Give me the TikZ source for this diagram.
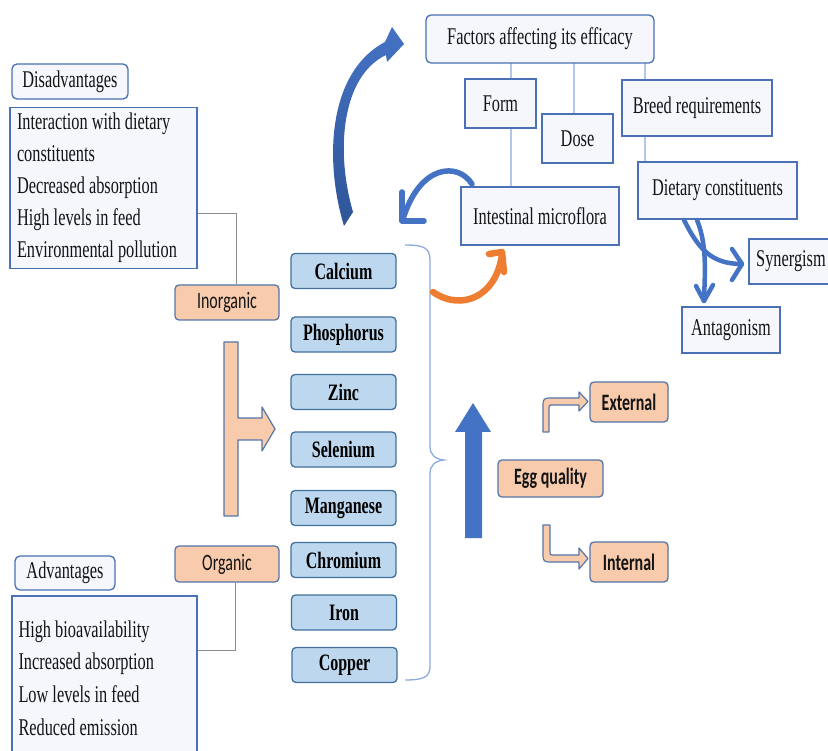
\documentclass[tikz,border=0pt]{standalone}
\usepackage{fontspec}
\setmainfont[FakeStretch=0.68]{Liberation Serif}
\newfontfamily\calfont[FakeStretch=0.68]{Carlito}
\definecolor{boxblue}{HTML}{4A70B5}
\definecolor{lightfill}{HTML}{F5F7FC}
\definecolor{minfill}{HTML}{BDD7EE}
\definecolor{minborder}{HTML}{41719C}
\definecolor{peach}{HTML}{F8CBAD}
\definecolor{peachborder}{HTML}{5576A8}
\definecolor{gconncol}{HTML}{8C8C8C}
\definecolor{tconncol}{HTML}{B4C7E7}
\definecolor{arrblue}{HTML}{4472C4}
\definecolor{arrdark}{HTML}{2F5597}
\definecolor{arrorange}{HTML}{ED7D31}
\definecolor{bracecol}{HTML}{8FAADC}
\definecolor{txt}{HTML}{141414}
\begin{document}
\begin{tikzpicture}[x=1pt,y=-1pt,
  txtbox/.style={draw=boxblue, line width=1.3pt, fill=lightfill, inner sep=0pt, text=txt,
                 font=\fontsize{24}{32}\selectfont},
  rbox/.style={txtbox, rounded corners=5pt},
  mineral/.style={draw=minborder, fill=minfill, rounded corners=4pt, line width=1.3pt,
                  minimum width=105pt, minimum height=35pt, inner sep=0pt, text=black,
                  font=\fontsize{23.5}{26}\selectfont\bfseries},
  peachbox/.style={draw=peachborder, fill=peach, rounded corners=4pt, line width=1.3pt,
                   inner sep=0pt, text=txt, font=\calfont\fontsize{23.5}{26}\selectfont},
  peachbold/.style={peachbox, font=\calfont\fontsize{23.5}{26}\selectfont\bfseries},
  gconn/.style={draw=gconncol, line width=1pt},
  tconn/.style={draw=tconncol, line width=1.2pt},
  bluearr/.style={draw=arrblue, line width=5.5pt, line cap=round, line join=round},
  dietarr/.style={draw=arrblue, line width=4.5pt, line cap=round, line join=round},
  orangearr/.style={draw=arrorange, line width=6.5pt, line cap=round, line join=round},
  peachshape/.style={fill=peach, draw=peachborder, line width=1.2pt, line join=round}
]
\useasboundingbox (0,0) rectangle (828,751);
\fill[white] (0,0) rectangle (828,751);
\clip (0,0) rectangle (828,751);

% ---------- coordinates for connectors ----------
\coordinate (k1) at (236,214);
\coordinate (k2) at (235,650);
\coordinate (f1) at (511,0);
\coordinate (f2) at (574,0);
\coordinate (f3) at (645,0);

% ---------- left boxes ----------
\node[rbox, minimum width=116pt, minimum height=35pt] (dish) at (70,81.5) {Disadvantages};
\node[txtbox, minimum width=187pt, minimum height=161pt, text width=173pt, align=flush left] (disl) at (103.5,188)
  {Interaction with dietary\\constituents\\Decreased absorption\\High levels in feed\\Environmental pollution};
\node[peachbox, minimum width=104pt, minimum height=35pt] (inorg) at (227,302.5) {Inorganic};
\node[peachbox, minimum width=104pt, minimum height=36pt] (org) at (227,564) {Organic};
\node[rbox, minimum width=100pt, minimum height=34pt] (advh) at (65,573) {Advantages};
\node[txtbox, minimum width=185pt, minimum height=164pt, text width=172pt, align=flush left,
      font=\fontsize{24}{32.6}\selectfont] (advl) at (104.5,678)
  {High bioavailability\\Increased absorption\\Low levels in feed\\Reduced emission};

\draw[gconn] (disl.east |- k1) -- (k1) -- (k1 |- inorg.north);
\draw[gconn] (k2 |- org.south) -- (k2) -- (k2 -| advl.east);

% ---------- T arrow ----------
\path[peachshape] (224,342) -- (238,342) -- (238,418) -- (262,418) -- (262,407) -- (275,429)
  -- (262,451) -- (262,440) -- (238,440) -- (238,516) -- (224,516) -- cycle;

% ---------- minerals ----------
\node[mineral] (ca) at (343.5,271) {Calcium};
\node[mineral] (ph) at (343.5,334.5) {Phosphorus};
\node[mineral] (zn) at (343.5,392) {Zinc};
\node[mineral] (se) at (343.5,449.5) {Selenium};
\node[mineral] (mn) at (343.5,508) {Manganese};
\node[mineral] (cr) at (343.5,560) {Chromium};
\node[mineral] (fe) at (344,612.5) {Iron};
\node[mineral] (cu) at (344.5,665) {Copper};

% ---------- brace ----------
\draw[bracecol, line width=1.3pt]
  (405,245) .. controls (424,245) and (430,248) .. (430,260) -- (430,446)
  .. controls (430,455) and (435,459) .. (444,460)
  .. controls (435,461) and (430,465) .. (430,474) -- (430,666)
  .. controls (430,677) and (424,680) .. (405,680);

% ---------- top-right factors ----------
\draw[tconn] (f1 |- 0,63) -- (f1 |- 0,187);
\draw[tconn] (f2 |- 0,63) -- (f2 |- 0,114);
\draw[tconn] (f3 |- 0,63) -- (f3 |- 0,162);

\node[rbox, minimum width=228pt, minimum height=48pt] (factors) at (540,39) {Factors affecting its efficacy};
\node[txtbox, minimum width=71pt, minimum height=49pt] (form) at (500.5,103.5) {Form};
\node[txtbox, minimum width=71pt, minimum height=49pt] (dose) at (577.5,138.5) {Dose};
\node[txtbox, minimum width=150pt, minimum height=56pt] (breed) at (697,108) {Breed requirements};
\node[txtbox, minimum width=159pt, minimum height=57pt] (diet) at (717.5,190.5) {Dietary constituents};
\node[txtbox, minimum width=158pt, minimum height=58pt] (intest) at (540,216) {Intestinal microflora};
\node[txtbox, minimum width=84pt, minimum height=45pt] (syn) at (791,261.5) {Synergism};
\node[txtbox, minimum width=98pt, minimum height=46pt] (ant) at (731,330) {Antagonism};

% ---------- dietary arrows ----------
\coordinate (s1) at (684,220);
\coordinate (s2) at (697,220);
\coordinate (t1) at (742,264);
\coordinate (t2) at (704,301);
\draw[dietarr] (s1) .. controls (699,250) and (712,264) .. (t1);
\draw[dietarr] (732,249) -- (t1) -- (732,280);
\draw[dietarr] (s2) .. controls (707,245) and (705,270) .. (t2);
\draw[dietarr] (696,286) -- (t2) -- (713,285);

% ---------- big curved blue arrow ----------
\path[top color=arrblue, bottom color=arrdark]
  (344,226) .. controls (324,160) and (328,72) .. (385,42)
  -- (392,27) -- (404,44) -- (387,62) -- (386,55)
  .. controls (342,76) and (335,150) .. (353,212) -- cycle;

% ---------- arrow from intestinal microflora ----------
\coordinate (a2s) at (472,184);
\coordinate (a2e) at (403,219);
\draw[bluearr] (a2s) .. controls (458,162) and (420,164) .. (a2e);
\draw[bluearr] (402,192) -- (402,221) -- (424,221);

% ---------- orange arrow ----------
\coordinate (o1) at (433,292);
\coordinate (o2) at (502,254);
\draw[orangearr] (o1) .. controls (462,312) and (497,296) .. (o2);
\draw[orangearr] (489,254) -- (502,252) -- (504,272);

% ---------- egg quality ----------
\path[fill=arrblue] (465,538) -- (465,432) -- (455,432) -- (473,403) -- (491,432) -- (482,432) -- (482,538) -- cycle;
\node[peachbold, minimum width=105pt, minimum height=37pt] (egg) at (550.5,478.5) {Egg quality};
\node[peachbold, minimum width=78pt, minimum height=40pt] (ext) at (629,402) {External};
\node[peachbold, minimum width=78pt, minimum height=40pt] (int) at (629,562) {Internal};

\path[peachshape] (543,432) -- (543,408) .. controls (543,398) .. (553,398) -- (579,398) -- (579,392)
  -- (588,401.5) -- (579,411) -- (579,405) -- (553,405) .. controls (549,405) .. (549,409) -- (549,432) -- cycle;
\path[peachshape] (543,525) -- (543,552) .. controls (543,562) .. (553,562) -- (579,562) -- (579,569)
  -- (588,558.5) -- (579,548) -- (579,555) -- (553,555) .. controls (550,555) .. (550,552) -- (550,525) -- cycle;
\end{tikzpicture}
\end{document}
